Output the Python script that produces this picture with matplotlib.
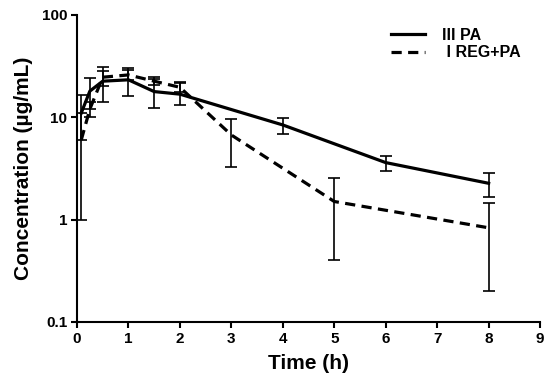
import matplotlib.pyplot as plt
import numpy as np

plt.rcParams['font.family'] = ['Liberation Sans', 'DejaVu Sans']
plt.rcParams['font.weight'] = 'bold'

# III PA
t_pa = [0.083, 0.25, 0.5, 1, 1.5, 2, 4, 6, 8]
c_pa = [11.0, 18.0, 22.5, 23.2, 17.8, 16.8, 8.4, 3.6, 2.26]
lo_pa = [6.0, 12.0, 14.2, 16.1, 12.3, 13.3, 6.9, 3.0, 1.65]
hi_pa = [16.3, 24.0, 31.2, 30.2, 23.5, 22.3, 9.8, 4.2, 2.87]

# I REG+PA
t_reg = [0.083, 0.25, 0.5, 1, 1.5, 2, 3, 5, 8]
c_reg = [6.0, 12.0, 24.6, 25.9, 22.5, 19.6, 6.7, 1.5, 0.83]
lo_reg = [1.0, 10.0, 20.2, 22.9, 20.5, 17.5, 3.24, 0.40, 0.20]
hi_reg = [11.0, 14.0, 28.5, 29.0, 24.6, 21.5, 9.6, 2.53, 1.44]

fig = plt.figure(figsize=(5.5, 3.92), dpi=100)
ax = fig.add_axes([0.14, 0.179, 0.842, 0.783])

def err(c, lo, hi):
    c = np.array(c); return [c - np.array(lo), np.array(hi) - c]

ax.errorbar(t_pa, c_pa, yerr=err(c_pa, lo_pa, hi_pa), color='black', lw=2.3,
            elinewidth=1.2, capsize=4, capthick=1.2, label='III PA')
ax.errorbar(t_reg, c_reg, yerr=err(c_reg, lo_reg, hi_reg), color='black', lw=2.3,
            ls=(0, (3.2, 2.0)), elinewidth=1.2, capsize=4, capthick=1.2, label=' I REG+PA')

ax.set_yscale('log')
ax.set_ylim(0.1, 100)
ax.set_xlim(0, 9)
ax.set_xticks(range(10))
ax.set_yticks([0.1, 1, 10, 100])
ax.set_yticklabels(['0.1', '1', '10', '100'])
ax.minorticks_off()
ax.spines['top'].set_visible(False)
ax.spines['right'].set_visible(False)
for s in ['left', 'bottom']:
    ax.spines[s].set_linewidth(1.5)
ax.tick_params(width=1.5, length=4.5, pad=2.5, labelsize=11)
ax.set_xlabel('Time (h)', fontsize=15, fontweight='bold', labelpad=6)
ax.set_ylabel('Concentration (µg/mL)', fontsize=15, fontweight='bold', labelpad=6)

h, l = ax.get_legend_handles_labels()
h = [x[0] for x in h]
ax.legend(h, l, loc='upper right', frameon=False, fontsize=11.5, handlelength=2.1,
          handletextpad=1.1, labelspacing=0.15, bbox_to_anchor=(0.99, 1.005))

plt.savefig('out.png', dpi=100)
